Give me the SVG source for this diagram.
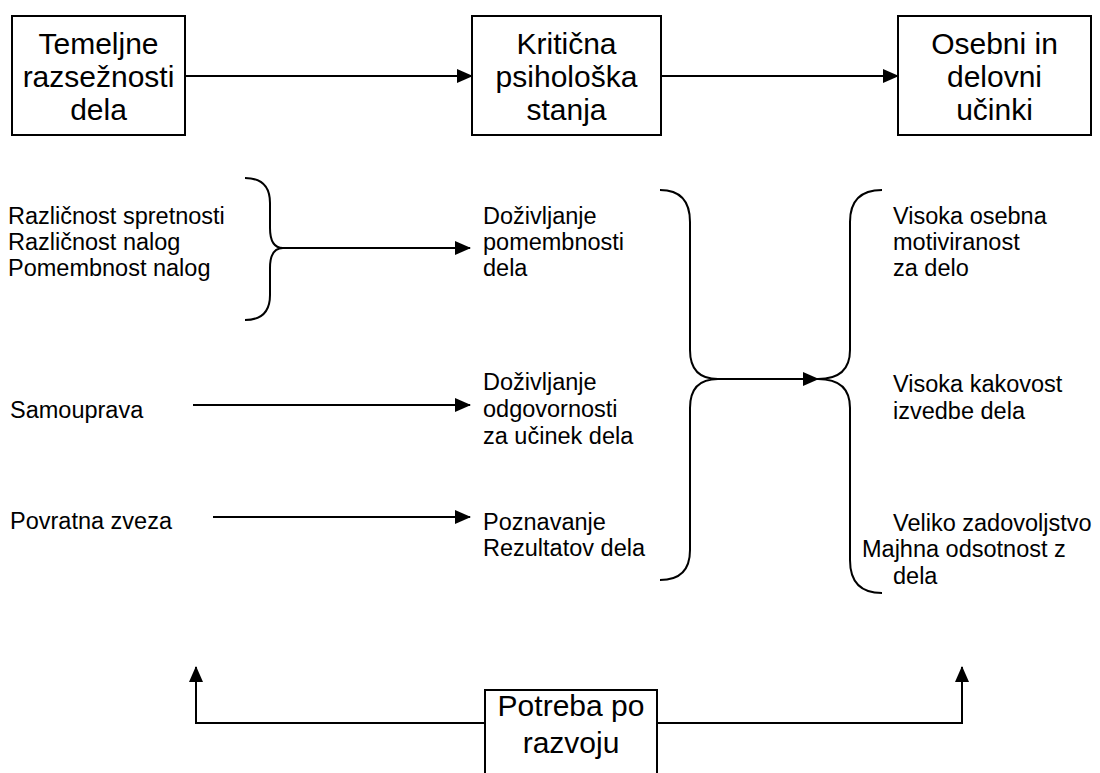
<svg xmlns="http://www.w3.org/2000/svg" width="1100" height="773" viewBox="0 0 1100 773">
<defs>
<marker id="ah" markerUnits="userSpaceOnUse" markerWidth="16" markerHeight="14" refX="15" refY="7" orient="auto">
<path d="M0,0 L16,7 L0,14 Z" fill="#000"/>
</marker>
<style>
.box{fill:#fff;stroke:#000;stroke-width:2}
.bt{font-family:"Liberation Sans",Arial,sans-serif;font-size:30px;fill:#000;text-anchor:middle}
.t{font-family:"Liberation Sans",Arial,sans-serif;font-size:23.5px;fill:#000}
.ln{fill:none;stroke:#000;stroke-width:2}
</style>
</defs>
<rect width="1100" height="773" fill="#fff"/>
<g id="connectors">
<path class="ln" d="M185,76 H472" marker-end="url(#ah)"/>
<path class="ln" d="M661,76 H898" marker-end="url(#ah)"/>
<path class="ln" d="M245,178 Q270,178 270,203 L270,228 Q270,248 283,248 Q270,248 270,268 L270,295 Q270,320 245,320"/>
<path class="ln" d="M283,248 H470" marker-end="url(#ah)"/>
<path class="ln" d="M193,405 H470" marker-end="url(#ah)"/>
<path class="ln" d="M213,517 H470" marker-end="url(#ah)"/>
<path class="ln" d="M660,190 Q690,190 690,222 L690,350 Q690,379 718,379 Q690,379 690,408 L690,550 Q690,580 660,580"/>
<path class="ln" d="M882,190 Q850,190 850,222 L850,350 Q850,379 818,379 Q850,379 850,408 L850,560 Q850,593 882,593"/>
<path class="ln" d="M718,379 H818" marker-end="url(#ah)"/>
<path class="ln" d="M485,723 H196 V667" marker-end="url(#ah)"/>
<path class="ln" d="M657,723 H962 V667" marker-end="url(#ah)"/>
</g>
<g id="n1">
<rect class="box" x="12" y="16" width="173" height="119"/>
<text class="bt" x="98.5" y="54">Temeljne</text>
<text class="bt" x="98.5" y="87">razsežnosti</text>
<text class="bt" x="98.5" y="120">dela</text>
</g>
<g id="n2">
<rect class="box" x="472" y="16" width="189" height="119"/>
<text class="bt" x="566.5" y="54">Kritična</text>
<text class="bt" x="566.5" y="87">psihološka</text>
<text class="bt" x="566.5" y="120">stanja</text>
</g>
<g id="n3">
<rect class="box" x="898" y="16" width="193" height="119"/>
<text class="bt" x="994.5" y="54">Osebni in</text>
<text class="bt" x="994.5" y="87">delovni</text>
<text class="bt" x="994.5" y="120">učinki</text>
</g>
<g id="n4">
<rect class="box" x="485" y="690" width="172" height="100"/>
<text class="bt" x="571" y="716">Potreba po</text>
<text class="bt" x="571" y="753">razvoju</text>
</g>
<g id="left-texts">
<text class="t" x="8" y="224">Različnost spretnosti</text>
<text class="t" x="8" y="250">Različnost nalog</text>
<text class="t" x="8" y="276">Pomembnost nalog</text>
<text class="t" x="10" y="418">Samouprava</text>
<text class="t" x="10" y="529">Povratna zveza</text>
</g>
<g id="mid-texts">
<text class="t" x="483" y="224">Doživljanje</text>
<text class="t" x="483" y="250">pomembnosti</text>
<text class="t" x="483" y="276">dela</text>
<text class="t" x="483" y="390">Doživljanje</text>
<text class="t" x="483" y="417">odgovornosti</text>
<text class="t" x="483" y="444">za učinek dela</text>
<text class="t" x="483" y="530">Poznavanje</text>
<text class="t" x="483" y="556">Rezultatov dela</text>
</g>
<g id="right-texts">
<text class="t" x="893" y="224">Visoka osebna</text>
<text class="t" x="893" y="250">motiviranost</text>
<text class="t" x="893" y="276">za delo</text>
<text class="t" x="893" y="392">Visoka kakovost</text>
<text class="t" x="893" y="419">izvedbe dela</text>
<text class="t" x="893" y="531">Veliko zadovoljstvo</text>
<text class="t" x="862" y="557">Majhna odsotnost z</text>
<text class="t" x="893" y="584">dela</text>
</g>
</svg>
